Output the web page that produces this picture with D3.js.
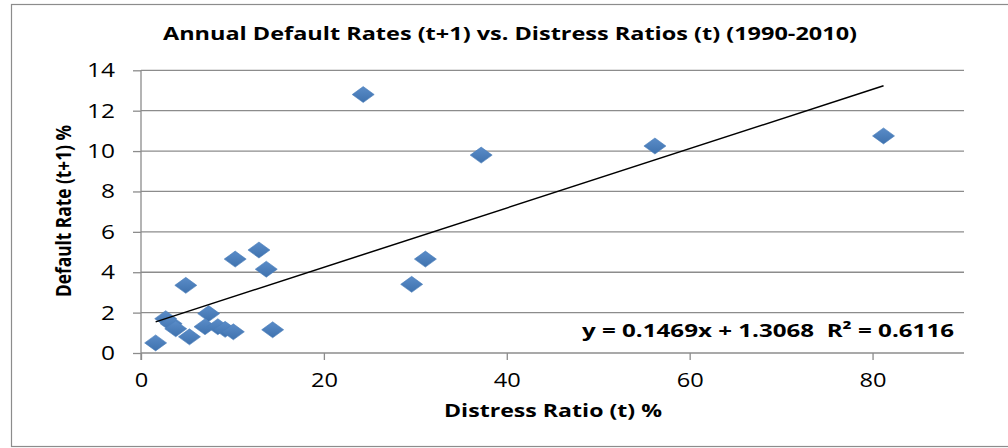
<!DOCTYPE html>
<html><head><meta charset="utf-8">
<script src="https://cdn.jsdelivr.net/npm/d3@7"></script>
<style>body{margin:0;background:#fff}svg{display:block}</style>
</head><body>
<svg id="c" width="1008" height="448"></svg>
<script>
const distressRatio = [24.3, 37.2, 56.2, 81.2, 31.1, 29.6, 12.9, 13.7, 10.3, 4.9, 14.4, 7.4, 1.6, 5.3, 2.7, 3.3, 3.8, 7.0, 8.4, 9.2, 10.1];
const defaultRate   = [12.8, 9.8, 10.25, 10.75, 4.65, 3.4, 5.1, 4.15, 4.65, 3.35, 1.15, 1.95, 0.5, 0.8, 1.7, 1.45, 1.2, 1.3, 1.3, 1.17, 1.05];
const xTicks = [0, 20, 40, 60, 80];
const yTicks = [0, 2, 4, 6, 8, 10, 12, 14];
const trendSlope = [0.1469];
const trendIntercept = [1.3068];
const titleText = "Annual Default Rates (t+1) vs. Distress Ratios (t) (1990-2010)";
const xTitle = "Distress Ratio (t) %";
const yTitle = "Default Rate (t+1) %";
const eqText = "y = 0.1469x + 1.3068  R² = 0.6116";

const svg = d3.select("#c");
const L = 141, R = 964, T = 70.3, B = 353;
const x = d3.scaleLinear().domain([0, 90]).range([L, R]);
const y = d3.scaleLinear().domain([0, 14]).range([B, T]);
const font = "'Open Sans', 'DejaVu Sans', sans-serif";

// outer border
svg.append("rect").attr("x", 11.5).attr("y", 4.5).attr("width", 1000).attr("height", 442)
  .attr("fill", "#fff").attr("stroke", "#8c8c8c").attr("stroke-width", 1.2);

// gridlines
svg.append("g").selectAll("line").data(yTicks.filter(d => d > 0)).join("line")
  .attr("x1", L).attr("x2", R).attr("y1", d => y(d)).attr("y2", d => y(d))
  .attr("stroke", "#8c8c8c").attr("stroke-width", 1.3);

// y axis
const yAxis = d3.axisLeft(y).tickValues(yTicks).tickSize(8).tickPadding(18).tickFormat(d3.format("d"));
const gy = svg.append("g").attr("transform", `translate(${L},0)`).call(yAxis);
gy.select(".domain").attr("stroke", "#8c8c8c").attr("stroke-width", 1.3).attr("d", `M0,${T}V${B+7}`);
gy.selectAll(".tick line").attr("stroke", "#8c8c8c").attr("stroke-width", 1.3);
gy.selectAll(".tick text").attr("font-family", font).attr("font-size", 20).attr("fill", "#000")
  .attr("textLength", d => String(d).length * 14).attr("lengthAdjust", "spacingAndGlyphs");

// x axis
const xAxis = d3.axisBottom(x).tickValues(xTicks).tickSize(7).tickPadding(13).tickFormat(d3.format("d"));
const gx = svg.append("g").attr("transform", `translate(0,${B})`).call(xAxis);
gx.select(".domain").attr("stroke", "#8c8c8c").attr("stroke-width", 1.3).attr("d", `M${L},0H${R}`);
gx.selectAll(".tick line").attr("stroke", "#8c8c8c").attr("stroke-width", 1.3);
gx.selectAll(".tick text").attr("font-family", font).attr("font-size", 20).attr("fill", "#000")
  .attr("textLength", d => String(d).length * 13.5).attr("lengthAdjust", "spacingAndGlyphs");

// gradient for markers
const defs = svg.append("defs");
const grad = defs.append("linearGradient").attr("id", "mg").attr("x1", 0).attr("y1", 0).attr("x2", 0).attr("y2", 1);
grad.append("stop").attr("offset", "0%").attr("stop-color", "#5a8cc8");
grad.append("stop").attr("offset", "100%").attr("stop-color", "#3f72ae");

// markers
const pts = distressRatio.map((d, i) => ({ x: d, y: defaultRate[i] }));
const hw = 11, hh = 8;
svg.append("g").selectAll("path").data(pts).join("path")
  .attr("d", d => `M${x(d.x) - hw},${y(d.y)}L${x(d.x)},${y(d.y) - hh}L${x(d.x) + hw},${y(d.y)}L${x(d.x)},${y(d.y) + hh}Z`)
  .attr("fill", "url(#mg)").attr("stroke", "#4a7ebb").attr("stroke-width", 0.6);

// trendline
const xmin = d3.min(distressRatio), xmax = d3.max(distressRatio);
const line = d3.line().x(d => x(d)).y(d => y(trendSlope[0] * d + trendIntercept[0]));
svg.append("path").datum([xmin, xmax]).attr("d", line).attr("stroke", "#000").attr("stroke-width", 1.5).attr("fill", "none");

// title
svg.append("text").attr("x", 510).attr("y", 40).attr("text-anchor", "middle")
  .attr("font-family", font).attr("font-weight", "bold").attr("font-size", 18.5)
  .attr("textLength", 694).attr("lengthAdjust", "spacingAndGlyphs").text(titleText);

// x title
svg.append("text").attr("x", 553).attr("y", 417).attr("text-anchor", "middle")
  .attr("font-family", font).attr("font-weight", "bold").attr("font-size", 18.5)
  .attr("textLength", 218).attr("lengthAdjust", "spacingAndGlyphs").text(xTitle);

// y title
svg.append("text").attr("transform", "translate(71,211) rotate(-90)").attr("text-anchor", "middle")
  .attr("font-family", font).attr("font-weight", "bold").attr("font-size", 21)
  .attr("textLength", 172).attr("lengthAdjust", "spacingAndGlyphs").text(yTitle);

// equation
svg.append("text").attr("x", 582).attr("y", 337).attr("text-anchor", "start")
  .attr("xml:space", "preserve").style("white-space", "pre")
  .attr("font-family", font).attr("font-weight", "bold").attr("font-size", 18.5)
  .attr("textLength", 372).attr("lengthAdjust", "spacingAndGlyphs").text(eqText);
</script>
</body></html>
